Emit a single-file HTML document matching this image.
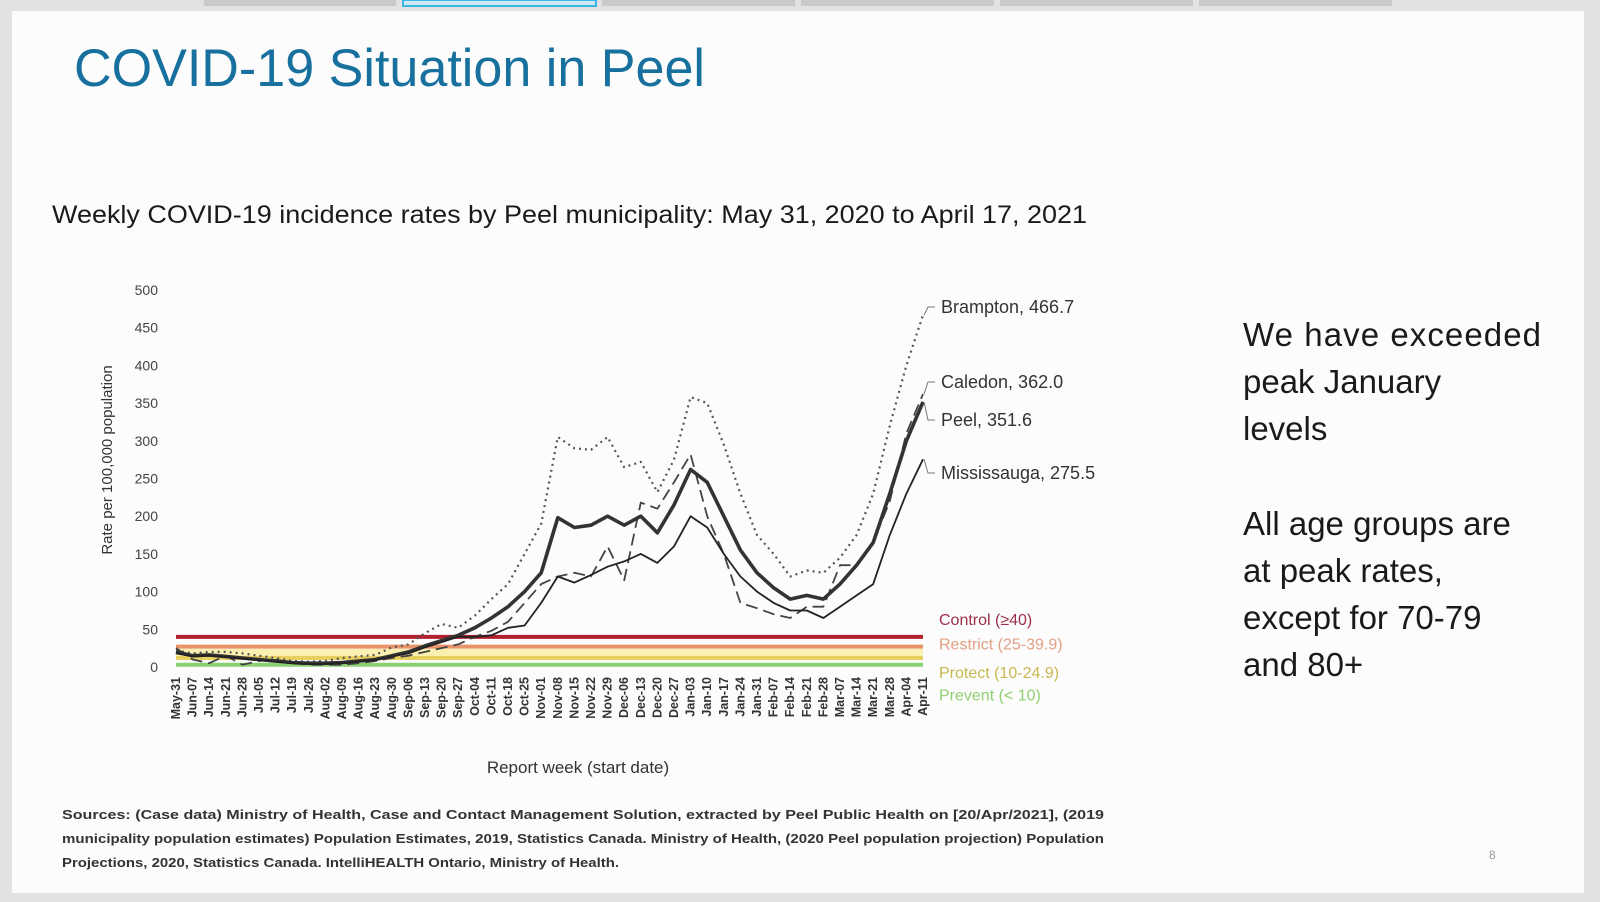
<!DOCTYPE html>
<html><head><meta charset="utf-8"><style>
html,body{margin:0;padding:0;background:#e4e4e4;}
svg{display:block;font-family:"Liberation Sans",Arial,sans-serif;}
</style></head><body>
<svg id="chart" width="1600" height="902" viewBox="0 0 1600 902" xmlns="http://www.w3.org/2000/svg">
<rect x="0" y="0" width="1600" height="902" fill="#e2e2e2"/>
<g>
<rect x="204" y="0" width="192" height="6" fill="#c9c9c9"/>
<rect x="403" y="0" width="193" height="6" fill="#d0e8f4" stroke="#38b6e8" stroke-width="2"/>
<rect x="602" y="0" width="193" height="6" fill="#c9c9c9"/>
<rect x="801" y="0" width="193" height="6" fill="#c9c9c9"/>
<rect x="1000" y="0" width="193" height="6" fill="#c9c9c9"/>
<rect x="1199" y="0" width="193" height="6" fill="#c9c9c9"/>
</g>
<rect x="12" y="11" width="1572" height="882" fill="#fcfcfc"/>
<text x="74" y="86" font-size="53" fill="#17709e" textLength="631" lengthAdjust="spacingAndGlyphs">COVID-19 Situation in Peel</text>
<text x="52" y="223" font-size="25" fill="#1a1a1a" textLength="1035" lengthAdjust="spacingAndGlyphs">Weekly COVID-19 incidence rates by Peel municipality:  May 31, 2020 to April 17, 2021</text>
<g id="plot"></g>
<g font-size="33" fill="#1a1a1a">
<text x="1243" y="346" textLength="298">We have exceeded</text>
<text x="1243" y="393">peak January</text>
<text x="1243" y="440">levels</text>
<text x="1243" y="535">All age groups are</text>
<text x="1243" y="582">at peak rates,</text>
<text x="1243" y="629">except for 70-79</text>
<text x="1243" y="676">and 80+</text>
</g>
<g font-size="12.5" font-weight="bold" fill="#333">
<text x="62" y="819" textLength="1042" lengthAdjust="spacingAndGlyphs">Sources: (Case data) Ministry of Health, Case and Contact Management Solution, extracted by Peel Public Health on [20/Apr/2021], (2019</text>
<text x="62" y="843" textLength="1042" lengthAdjust="spacingAndGlyphs">municipality population estimates) Population Estimates, 2019, Statistics Canada. Ministry of Health, (2020 Peel population projection) Population</text>
<text x="62" y="867" textLength="557" lengthAdjust="spacingAndGlyphs">Projections, 2020, Statistics Canada. IntelliHEALTH Ontario, Ministry of Health.</text>
</g>
<text x="1489" y="859" font-size="12" fill="#999">8</text>
</svg>
<script>
const weeks = ["May-31","Jun-07","Jun-14","Jun-21","Jun-28","Jul-05","Jul-12","Jul-19","Jul-26","Aug-02","Aug-09","Aug-16","Aug-23","Aug-30","Sep-06","Sep-13","Sep-20","Sep-27","Oct-04","Oct-11","Oct-18","Oct-25","Nov-01","Nov-08","Nov-15","Nov-22","Nov-29","Dec-06","Dec-13","Dec-20","Dec-27","Jan-03","Jan-10","Jan-17","Jan-24","Jan-31","Feb-07","Feb-14","Feb-21","Feb-28","Mar-07","Mar-14","Mar-21","Mar-28","Apr-04","Apr-11"];
const brampton = [22,18,20,20,18,15,12,8,7,8,12,14,16,26,30,45,57,52,68,90,110,150,190,305,290,288,305,265,272,232,275,358,350,295,230,175,150,120,128,125,145,175,230,320,400,466.7];
const caledon = [25,10,5,15,3,8,10,5,3,3,3,5,8,12,15,20,25,30,40,48,60,85,110,120,125,120,160,115,218,210,245,282,200,150,85,78,70,65,80,80,135,135,165,220,310,362.0];
const peel = [20,15,16,14,12,10,8,6,5,5,6,8,10,15,20,28,35,42,52,65,80,100,125,198,185,188,200,188,200,178,215,262,245,200,155,125,105,90,95,90,110,135,165,230,300,351.6];
const mississauga = [18,14,15,13,11,9,7,5,4,4,5,7,9,14,18,26,33,40,40,42,52,55,85,120,112,122,133,140,150,138,160,200,185,150,120,100,85,75,75,65,80,95,110,175,230,275.5];
const yTicks = [0,50,100,150,200,250,300,350,400,450,500];
const thresholds = [40,27,12,3];
const thresholdNames = ["Control (\u226540)","Restrict (25-39.9)","Protect (10-24.9)","Prevent  (< 10)"];
const seriesNames = ["Brampton","Caledon","Peel","Mississauga"];

const NS="http://www.w3.org/2000/svg";
const plot=document.getElementById('plot');
const X0=176,X1=923,Y0=667,Y500=290;
function xs(i){return X0+(X1-X0)*i/(weeks.length-1);}
function ys(v){return Y0-(Y0-Y500)*v/500;}
function mk(tag,attrs,parent){const e=document.createElementNS(NS,tag);for(const k in attrs)e.setAttribute(k,attrs[k]);(parent||plot).appendChild(e);return e;}

yTicks.forEach(t=>{
  const e=mk('text',{x:158,y:ys(t)+5,'font-size':14,'text-anchor':'end',fill:'#444'});
  e.textContent=t;
  
  
});
const yt=mk('text',{x:0,y:0,'font-size':15,'text-anchor':'middle',fill:'#333',transform:'translate(112,460) rotate(-90)'});
yt.textContent='Rate per 100,000 population';



const bandColors=["#b0202e","#e8936a","#e8d060","#8cd070"];
mk('rect',{x:X0,y:ys(24),width:X1-X0,height:ys(14)-ys(24),fill:'#fbf0b0'});
thresholds.forEach((t,i)=>{
  const l=mk('line',{x1:X0,x2:X1,y1:ys(t),y2:ys(t),stroke:bandColors[i],'stroke-width':4});
  
  
  const tx=mk('text',{x:939,y:ys(t)+[ -12,3,20,36 ][i],'font-size':16,fill:["#9b2f4a","#e2a084","#c8b850","#90d070"][i]});
  tx.textContent=thresholdNames[i];
  
  
});

weeks.forEach((w,i)=>{
  const e=mk('text',{x:0,y:0,'font-size':12.5,'font-weight':'bold','text-anchor':'end',fill:'#333',transform:`translate(${xs(i)+4},${Y0+10}) rotate(-90)`});
  e.textContent=w;
  
  
});
const xt=mk('text',{x:578,y:773,'font-size':17,'text-anchor':'middle',fill:'#333'});
xt.textContent='Report week (start date)';



const all=[brampton,caledon,peel,mississauga];
const styles=[
 {stroke:'#555','stroke-width':2.2,'stroke-dasharray':'2 4'},
 {stroke:'#444','stroke-width':1.8,'stroke-dasharray':'12 6'},
 {stroke:'#333','stroke-width':3.6},
 {stroke:'#222','stroke-width':1.8}];
const labelY=[313,388,426,479];
all.forEach((s,k)=>{
  const d=s.map((v,i)=>(i?'L':'M')+xs(i).toFixed(1)+','+ys(v).toFixed(1)).join('');
  const p=mk('path',Object.assign({d:d,fill:'none','stroke-linejoin':'round'},styles[k]));
  
  
  const last=s[s.length-1];
  const lx=xs(s.length-1),ly=ys(last);
  const c=mk('path',{d:`M${lx+1},${ly} L${lx+5},${labelY[k]-6} L${lx+12},${labelY[k]-6}`,fill:'none',stroke:'#777','stroke-width':1});
  
  
  const t=mk('text',{x:941,y:labelY[k],'font-size':18,fill:'#333'});
  t.textContent=seriesNames[k]+', '+last.toFixed(1);
  
  
});
</script>
</body></html>
